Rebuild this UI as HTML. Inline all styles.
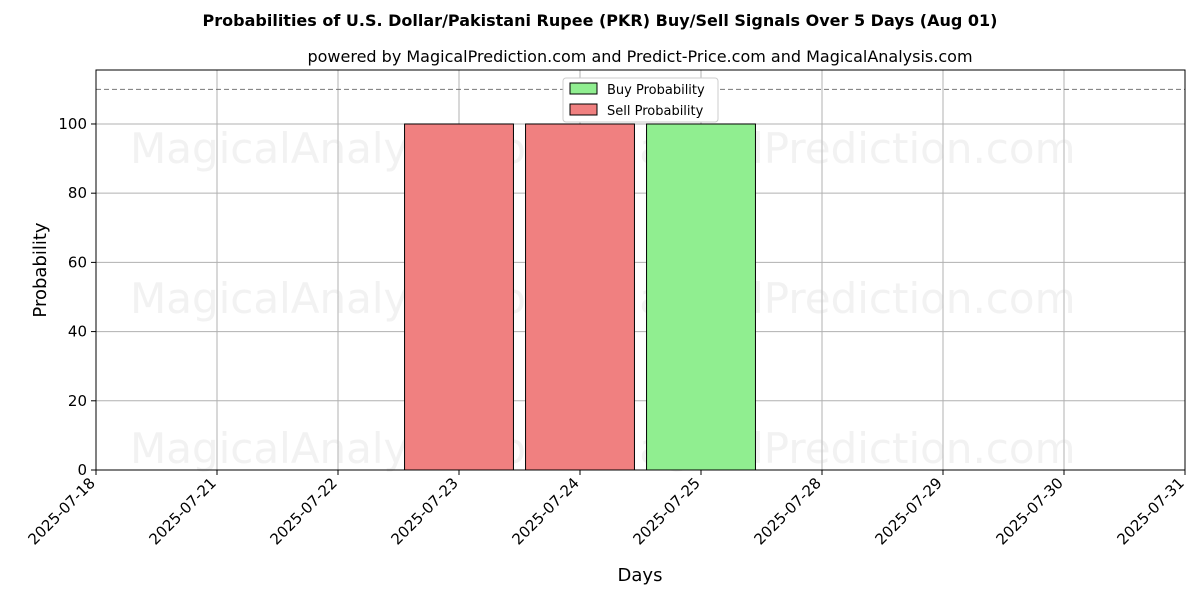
<!DOCTYPE html>
<html><head><meta charset="utf-8"><style>
body{margin:0;background:#fff;font-family:"Liberation Sans","DejaVu Sans",sans-serif}
</style></head><body>
<svg width="1200" height="600" xmlns="http://www.w3.org/2000/svg" font-family="DejaVu Sans, Liberation Sans, sans-serif">
<text x="600" y="26" text-anchor="middle" font-size="16" font-weight="bold">Probabilities of U.S. Dollar/Pakistani Rupee (PKR) Buy/Sell Signals Over 5 Days (Aug 01)</text>
<text x="640" y="62" text-anchor="middle" font-size="16">powered by MagicalPrediction.com and Predict-Price.com and MagicalAnalysis.com</text>
<g id="grid"></g>
<g id="wm" fill="#ccc" opacity="0.25" font-size="42">
<text x="130" y="163">MagicalAnalysis.com</text><text x="603" y="163">MagicalPrediction.com</text>
<text x="130" y="313">MagicalAnalysis.com</text><text x="603" y="313">MagicalPrediction.com</text>
<text x="130" y="463">MagicalAnalysis.com</text><text x="603" y="463">MagicalPrediction.com</text>
</g>
<g id="bars"></g>
<line x1="96" x2="1185" y1="89.4" y2="89.4" stroke="#777" stroke-dasharray="5,3"/>
<rect x="96" y="70" width="1089" height="400" fill="none" stroke="#000"/>
<g id="axes"></g>
<text x="640" y="581" text-anchor="middle" font-size="18">Days</text>
<text transform="translate(46,270) rotate(-90)" text-anchor="middle" font-size="18">Probability</text>
<g>
<rect x="563" y="78" width="155" height="44" fill="#fff" stroke="#ccc" rx="3"/>
<rect x="570" y="83" width="27" height="11" fill="#90ee90" stroke="#000"/>
<text x="607" y="94" font-size="13">Buy Probability</text>
<rect x="570" y="104" width="27" height="11" fill="#f08080" stroke="#000"/>
<text x="607" y="115" font-size="13">Sell Probability</text>
</g>
</svg>
<script>
const categories=["2025-07-18","2025-07-21","2025-07-22","2025-07-23","2025-07-24","2025-07-25","2025-07-28","2025-07-29","2025-07-30","2025-07-31"];
const buyValues=[0,0,0,0,0,100,0,0,0,0];
const sellValues=[0,0,0,100,100,0,0,0,0,0];
const yTicks=[0,20,40,60,80,100];
const NS="http://www.w3.org/2000/svg";
const x0=96,step=121.0,y0=470,yMax=115.6,ph=400;
const xs=i=>x0+i*step, ys=v=>y0-v/yMax*ph;
function mk(t,a,p){const e=document.createElementNS(NS,t);for(const k in a)e.setAttribute(k,a[k]);p.appendChild(e);return e;}
const grid=document.getElementById('grid'),axes=document.getElementById('axes'),bars=document.getElementById('bars');
categories.forEach((c,i)=>{
 const x=xs(i);
 const g=mk('line',{x1:x,x2:x,y1:70,y2:470,stroke:'#b0b0b0'},grid);
 
 mk('line',{x1:x,x2:x,y1:470,y2:475,stroke:'#000'},axes);
 const t=mk('text',{x:x,y:484,'font-size':15,'text-anchor':'end',transform:`rotate(-45 ${x} 484)`},axes);
 t.textContent=c;
 
});
yTicks.forEach(v=>{
 const y=ys(v);
 const g=mk('line',{x1:96,x2:1185,y1:y,y2:y,stroke:'#b0b0b0'},grid);
 
 mk('line',{x1:91,x2:96,y1:y,y2:y,stroke:'#000'},axes);
 const t=mk('text',{x:87,y:y+5,'font-size':15,'text-anchor':'end'},axes);
 t.textContent=v;
 
});
const bw=step*0.9;
categories.forEach((c,i)=>{
 [[sellValues[i],'#f08080','sell'],[buyValues[i],'#90ee90','buy']].forEach(([v,col,n])=>{
  if(v<=0)return;
  const r=mk('rect',{x:xs(i)-bw/2,y:ys(v),width:bw,height:y0-ys(v),fill:col,stroke:'#000'},bars);
  
  
 });
});
</script>
</body></html>
